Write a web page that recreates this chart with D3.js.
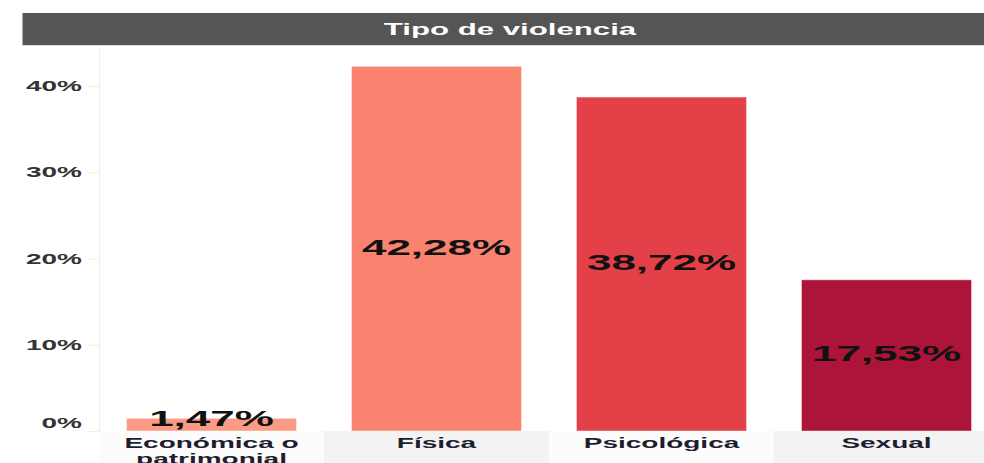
<!DOCTYPE html>
<html>
<head>
<meta charset="utf-8">
<script src="https://cdn.jsdelivr.net/npm/d3@7"></script>
<style>
  body { margin: 0; background: #fff; }
  text { font-family: "Liberation Sans", Arial, sans-serif; font-weight: bold; }
</style>
</head>
<body>
<div id="chart"></div>
<script>
//// data
var categories = ["Económica o patrimonial", "Física", "Psicológica", "Sexual"];
var values = [1.47, 42.28, 38.72, 17.53];
var labels = ["1,47%", "42,28%", "38,72%", "17,53%"];
var colors = ["#fb9a85", "#f9836e", "#e34047", "#ad1439"];
var yTicks = [0, 10, 20, 30, 40];
var title = "Tipo de violencia";

var data = categories.map(function (c, i) {
  return {cat: c, value: values[i], label: labels[i], color: colors[i]};
});

//// chart
var width = 984, height = 463;
var sx = 2; // text is drawn wide

var svg = d3.select("#chart")
  .append("svg")
    .attr("width", width)
    .attr("height", height);

var xScale = d3.scaleBand()
  .domain(categories)
  .range([99, 999])
  .paddingInner(0.244)
  .paddingOuter(0.122);

var yScale = d3.scaleLinear()
  .domain([0, 40])
  .range([431, 86]);

//// title bar
svg.append("rect")
  .attr("x", 22).attr("y", 13)
  .attr("width", width - 22).attr("height", 32)
  .attr("fill", "#555");
svg.append("line")
  .attr("x1", 22.5).attr("x2", 22.5).attr("y1", 13).attr("y2", 45)
  .attr("stroke", "#aaa");
svg.append("line")
  .attr("x1", 22).attr("x2", width).attr("y1", 45.5).attr("y2", 45.5)
  .attr("stroke", "#ddd");
svg.append("text")
  .attr("transform", "translate(510,35) scale(1.95,1)")
  .attr("text-anchor", "middle")
  .attr("font-size", 16)
  .attr("fill", "#fff")
  .text(title);

//// x cells
var step = xScale.step();
svg.selectAll(".cell")
  .data(data)
  .enter()
  .append("rect")
  .attr("class", "cell")
  .attr("x", d => xScale(d.cat) + xScale.bandwidth() / 2 - step / 2)
  .attr("y", yScale(0))
  .attr("width", step)
  .attr("height", height - yScale(0))
  .attr("fill", (d, i) => i % 2 ? "#f3f3f3" : "#fcfcfc");

//// y axis
svg.append("line")
  .attr("x1", 99.5).attr("x2", 99.5)
  .attr("y1", 48).attr("y2", yScale(0))
  .attr("stroke", "#eee");

svg.selectAll(".ytick")
  .data(yTicks)
  .enter()
  .append("line")
  .attr("x1", 88).attr("x2", 99)
  .attr("y1", d => yScale(d) + 0.5).attr("y2", d => yScale(d) + 0.5)
  .attr("stroke", "#eee");

svg.selectAll(".ylab")
  .data(yTicks)
  .enter()
  .append("text")
  .attr("transform", d => "translate(82," + (Math.min(yScale(d), 423) + 5) + ") scale(" + sx + ",1)")
  .attr("text-anchor", "end")
  .attr("font-size", 14)
  .attr("fill", "#333")
  .text(d => d + "%");

//// bars
svg.selectAll(".bar")
  .data(data)
  .enter()
  .append("rect")
  .attr("class", "bar")
  .attr("x", d => xScale(d.cat))
  .attr("y", d => yScale(d.value))
  .attr("width", xScale.bandwidth())
  .attr("height", d => yScale(0) - yScale(d.value))
  .attr("fill", d => d.color)
  .attr("stroke", "rgba(255,255,255,0.45)")
  .attr("stroke-width", 1);

//// value labels
svg.selectAll(".val")
  .data(data)
  .enter()
  .append("text")
  .attr("transform", function (d) {
    var top = yScale(d.value), h = yScale(0) - top;
    var cy = h < 30 ? top : (top + yScale(0)) / 2 - 2;
    return "translate(" + (xScale(d.cat) + xScale.bandwidth() / 2) + "," + (cy + 8) + ") scale(" + sx + ",1)";
  })
  .attr("text-anchor", "middle")
  .attr("font-size", 22)
  .attr("fill", "#111")
  .text(d => d.label);

//// x labels (wrapped)
var xlab = svg.selectAll(".xlab")
  .data(data)
  .enter()
  .append("text")
  .attr("transform", d => "translate(" + (xScale(d.cat) + xScale.bandwidth() / 2) + ",448) scale(" + sx + ",1)")
  .attr("text-anchor", "middle")
  .attr("font-size", 14)
  .attr("fill", "#1e1e2e");

xlab.each(function (d) {
  var lines = d.cat === "Económica o patrimonial" ? ["Económica o", "patrimonial"] : [d.cat];
  var t = d3.select(this);
  lines.forEach(function (l, i) {
    t.append("tspan").attr("x", 0).attr("dy", i ? 16 : 0).text(l);
  });
});
</script>
</body>
</html>
